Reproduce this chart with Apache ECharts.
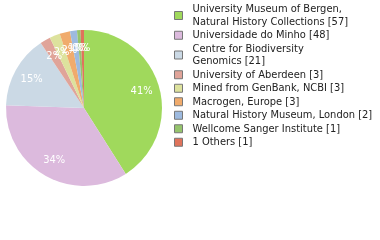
<!DOCTYPE html>
<html><head><meta charset="utf-8">
<script src="https://cdn.jsdelivr.net/npm/echarts@6/dist/echarts.min.js"></script>
<style>html,body{margin:0;padding:0;background:#fff}#c{width:380px;height:240px}</style>
</head><body><div id="c"></div>
<script>
var categories = ["University Museum of Bergen, Natural History Collections","Universidade do Minho","Centre for Biodiversity Genomics","University of Aberdeen","Mined from GenBank, NCBI","Macrogen, Europe","Natural History Museum, London","Wellcome Sanger Institute","1 Others"];
var legendLabels = ["University Museum of Bergen,\nNatural History Collections [57]","Universidade do Minho [48]","Centre for Biodiversity\nGenomics [21]","University of Aberdeen [3]","Mined from GenBank, NCBI [3]","Macrogen, Europe [3]","Natural History Museum, London [2]","Wellcome Sanger Institute [1]","1 Others [1]"];
var counts = [57,48,21,3,3,3,2,1,1];
var colors = ["#a0d95c","#dcbadd","#cbd9e5","#e0a499","#dde29d","#f0ab6c","#9dbadf","#95c46c","#e0735b"];

var total = counts.reduce(function(a,b){return a+b;},0);
var data = categories.map(function(n,i){return {name:n,value:counts[i],itemStyle:{color:colors[i]}};});
var chart = echarts.init(document.getElementById('c'),null,{renderer:'canvas'});
chart.setOption({
  animation:false,
  legend:{
    orient:'vertical', left:174, top:3, padding:0,
    itemWidth:8, itemHeight:8, itemGap:1, icon:'rect',
    itemStyle:{borderColor:'#777',borderWidth:1},
    textStyle:{fontFamily:'DejaVu Sans Condensed',fontSize:11,color:'#222',lineHeight:12.5,padding:[0,0,0,5]},
    formatter:function(n){return legendLabels[categories.indexOf(n)];},
    selectedMode:false,
    data:categories
  },
  series:[{
    type:'pie', center:[84,108], radius:[0,78], startAngle:90, clockwise:true,
    label:{show:false}, labelLine:{show:false}, silent:true,
    itemStyle:{borderWidth:0},
    data:data
  },{
    type:'pie', center:[84,108], radius:[36,78], startAngle:90, clockwise:true,
    silent:true, legendHoverLink:false,
    itemStyle:{color:'rgba(0,0,0,0)',borderWidth:0},
    labelLayout:{hideOverlap:false},
    label:{show:true,position:'inside',color:'#fff',fontFamily:'DejaVu Sans Condensed',fontSize:11,
      formatter:function(p){return Math.floor(p.value/total*100)+'%';}},
    labelLine:{show:false},
    data:categories.map(function(n,i){return {name:n+' ',value:counts[i]};})
  }]
});
</script></body></html>
